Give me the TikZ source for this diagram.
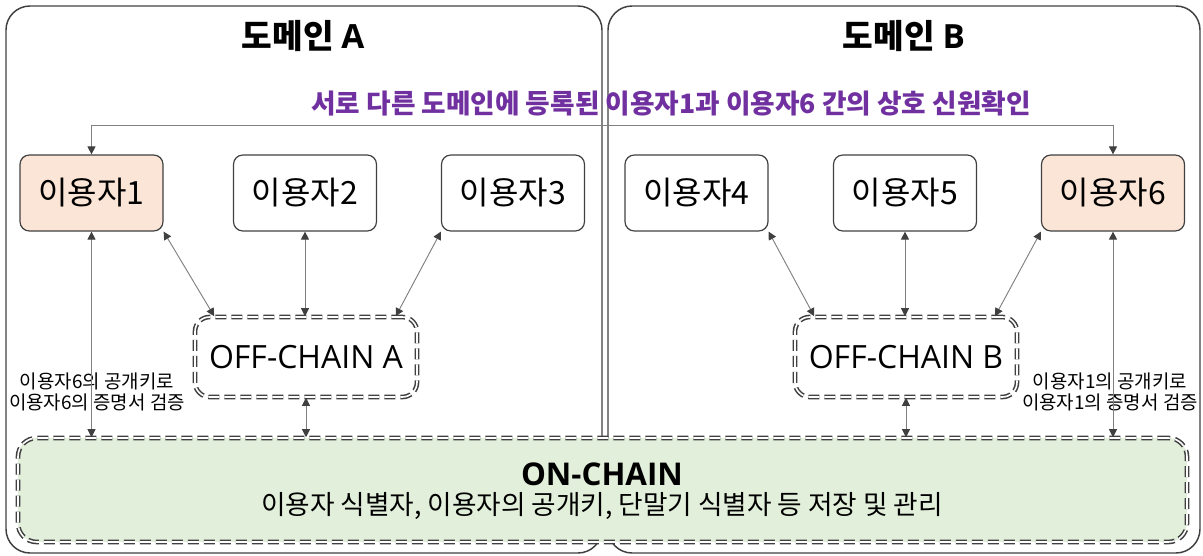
\documentclass[tikz,border=0pt]{standalone}
\usepackage{fontspec}
\setmainfont{Noto Sans CJK KR}
\newfontfamily\lat{Open Sans}
\usetikzlibrary{arrows.meta}
\definecolor{peach}{HTML}{FBE5D6}
\definecolor{mint}{HTML}{E2EFDA}
\definecolor{purp}{HTML}{7030A0}
\definecolor{edge}{HTML}{404040}
\definecolor{wire}{HTML}{808080}
\begin{document}
\begin{tikzpicture}[x=0.75pt,y=-0.75pt,
  domainbox/.style={draw=edge, line width=1.1pt, rounded corners=18pt, minimum height=410.25pt, inner sep=0pt},
  userbox/.style={draw=edge, line width=0.9pt, rounded corners=7pt, minimum width=107.25pt, minimum height=57pt, inner sep=0pt, font=\fontsize{24}{28}\selectfont},
  chainbox/.style={draw=edge, line width=1.15pt, double=white, double distance=1.2pt, dash pattern=on 8.25pt off 3.75pt, rounded corners=11pt, inner sep=0pt},
  link/.style={draw=wire, line width=0.7pt, {Triangle[length=6pt,width=6pt,color=edge]}-{Triangle[length=6pt,width=6pt,color=edge]}},
  note/.style={font=\fontsize{14.2}{16.2}\selectfont, align=center, inner sep=0pt},
  titletext/.style={font=\fontsize{25}{29}\selectfont\bfseries, inner sep=0pt},
]
\useasboundingbox (0,0) rectangle (1203,556);
% domains
\node[domainbox, minimum width=447pt] (domA) at (304,279.5) {};
\node[domainbox, minimum width=444pt] (domB) at (904,279.5) {};
\node[titletext] (tA) at (303,36) {도메인 {\lat\bfseries A}};
\node[titletext] (tB) at (904,36) {도메인 {\lat\bfseries B}};
\node[font=\fontsize{20}{24}\selectfont\bfseries, text=purp, inner sep=0pt] (ttl) at (671,103) {서로 다른 도메인에 등록된 이용자1과 이용자6 간의 상호 신원확인};
% on-chain
\node[chainbox, fill=mint, minimum width=876.75pt, minimum height=78pt, rounded corners=14pt] (on) at (602.5,490) {};
\node[font=\fontsize{23.5}{27}\selectfont\lat\bfseries, inner sep=0pt] (onT) at (602,474) {ON-CHAIN};
\node[font=\fontsize{20}{24}\selectfont, inner sep=0pt] (onD) at (602,506) {이용자 식별자, 이용자의 공개키, 단말기 식별자 등 저장 및 관리};
% users
\node[userbox, fill=peach] (u1) at (91.5,193) {이용자1};
\node[userbox] (u2) at (305,193) {이용자2};
\node[userbox] (u3) at (513,193) {이용자3};
\node[userbox] (u4) at (696.5,193) {이용자4};
\node[userbox] (u5) at (905,193) {이용자5};
\node[userbox, fill=peach] (u6) at (1113,193) {이용자6};
% off-chain
\node[chainbox, minimum width=166.5pt, minimum height=60pt, font=\fontsize{24}{28}\selectfont\lat] (offA) at (306,357) {OFF-CHAIN A};
\node[chainbox, minimum width=166.5pt, minimum height=60pt, font=\fontsize{24}{28}\selectfont\lat] (offB) at (906,357) {OFF-CHAIN B};
% notes
\node[note] (nA) at (97,392) {이용자6의 공개키로\\이용자6의 증명서 검증};
\node[note] (nB) at (1110,392) {이용자1의 공개키로\\이용자1의 증명서 검증};
% connectors
\coordinate (topy) at (0,125);
\draw[link] (u1.north) -- (u1.north |- topy) -| (u6.north);
\draw[link] (u1.south east) -- ([xshift=15pt]offA.north west);
\draw[link] (u2.south) -- (u2.south |- offA.north);
\draw[link] (u3.south west) -- ([xshift=-16.5pt]offA.north east);
\draw[link] (u4.south east) -- ([xshift=15pt]offB.north west);
\draw[link] (u5.south) -- (u5.south |- offB.north);
\draw[link] (u6.south west) -- ([xshift=-17pt]offB.north east);
\draw[link] (offA.south) -- (offA.south |- on.north);
\draw[link] (offB.south) -- (offB.south |- on.north);
\draw[link] (u1.south) -- (u1.south |- on.north);
\draw[link] (u6.south) -- (u6.south |- on.north);
\end{tikzpicture}
\end{document}
